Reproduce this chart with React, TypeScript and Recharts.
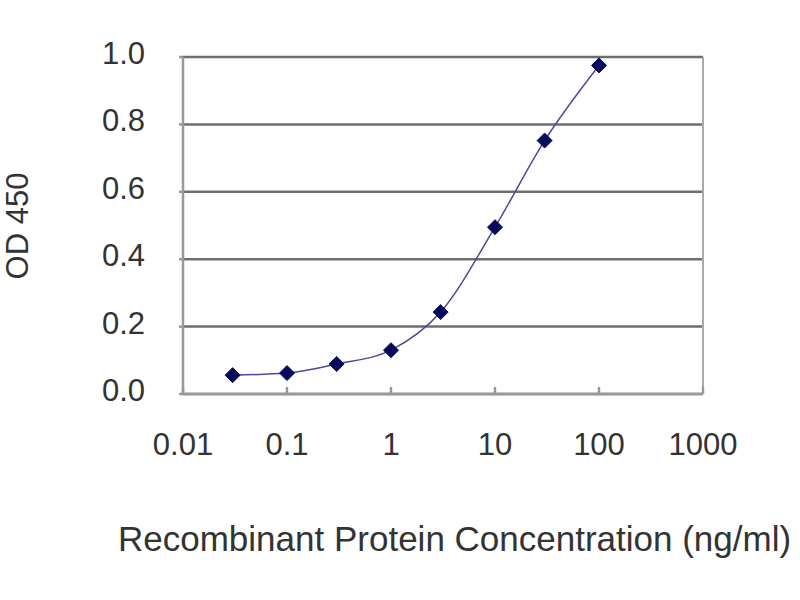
import React from "react";
import {
  CartesianGrid,
  Line,
  LineChart,
  ReferenceLine,
  XAxis,
  YAxis,
} from "recharts";

// concentrations in ng/ml and their OD 450 readings
const concentrations = [0.03, 0.1, 0.3, 1, 3, 10, 30, 100];
const odValues = [0.056, 0.062, 0.089, 0.13, 0.243, 0.495, 0.752, 0.975];

const xTicks = [0.01, 0.1, 1, 10, 100, 1000];
const xTickLabels = ["0.01", "0.1", "1", "10", "100", "1000"];
const yTicks = [0, 0.2, 0.4, 0.6, 0.8, 1.0];

const data = concentrations.map((conc, i) => ({ conc, od: odValues[i] }));

const font = "'Liberation Sans', Arial, sans-serif";
const textColor = "#333";
const axisColor = "#999";
const gridColor = "#5e5e5e";

type DotProps = { cx?: number; cy?: number; index?: number };

function Diamond({ cx, cy, index }: DotProps) {
  if (cx == null || cy == null) return null;
  const r = 7.5;
  return (
    <polygon
      key={`d-${index}`}
      points={`${cx},${cy - r} ${cx + r},${cy} ${cx},${cy + r} ${cx - r},${cy}`}
      fill="#0a0a5c"
      stroke="#0a0a5c"
      strokeWidth={1}
    />
  );
}

export default function App() {
  return (
    <div
      style={{
        position: "absolute",
        left: 0,
        top: 0,
        width: 800,
        height: 600,
        background: "#fff",
        overflow: "hidden",
        fontFamily: font,
      }}
    >
      <LineChart
        width={800}
        height={600}
        data={data}
        margin={{ top: 57, right: 97, bottom: 126, left: 0 }}
      >
        <CartesianGrid
          vertical={false}
          stroke={gridColor}
          strokeWidth={2.5}
          strokeOpacity={0.9}
        />
        <XAxis
          dataKey="conc"
          type="number"
          scale="log"
          domain={[0.01, 1000]}
          ticks={xTicks}
          tickFormatter={(v: number) => xTickLabels[xTicks.indexOf(v)] ?? String(v)}
          allowDataOverflow
          height={80}
          stroke={axisColor}
          strokeWidth={2.5}
          tickSize={-7}
          tickMargin={46}
          tick={{ fill: textColor, fontSize: 31, fontFamily: font }}
          interval={0}
        />
        <YAxis
          type="number"
          domain={[0, 1]}
          ticks={yTicks}
          tickFormatter={(v: number) => v.toFixed(1)}
          width={183}
          stroke={axisColor}
          strokeWidth={2.5}
          tickSize={4}
          tickMargin={34}
          tick={{ fill: textColor, fontSize: 31, fontFamily: font, dy: -4 }}
          interval={0}
        />
        <ReferenceLine x={1000} stroke="#aaa" strokeWidth={2} ifOverflow="extendDomain" />
        <Line
          type="monotone"
          dataKey="od"
          stroke="#4a4a9a"
          strokeWidth={1.5}
          dot={<Diamond />}
          activeDot={false}
          isAnimationActive={false}
        />
      </LineChart>
      <div
        style={{
          position: "absolute",
          left: 17,
          top: 226,
          transform: "translate(-50%, -50%) rotate(-90deg)",
          fontSize: 31,
          color: textColor,
          whiteSpace: "nowrap",
          lineHeight: 1,
        }}
      >
        OD 450
      </div>
      <div
        style={{
          position: "absolute",
          left: 118,
          top: 521,
          fontSize: 35,
          color: textColor,
          whiteSpace: "nowrap",
          lineHeight: 1,
        }}
      >
        Recombinant Protein Concentration (ng/ml)
      </div>
    </div>
  );
}
